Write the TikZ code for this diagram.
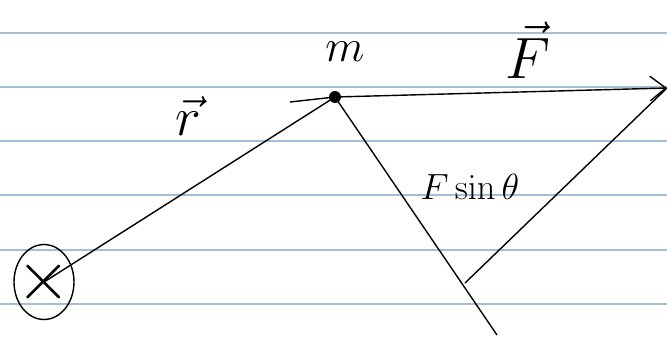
\documentclass[tikz,border=0pt]{standalone}
\usepackage{amsmath}
\usetikzlibrary{arrows.meta,shapes.geometric}
\definecolor{paperline}{RGB}{165,190,212}

\begin{document}
\begin{tikzpicture}[x=0.02cm, y=-0.02cm, >={Straight Barb[length=9pt,width=14pt]}]
    \useasboundingbox (0,0) rectangle (667,339);
    % ruled paper
    \foreach \yy in {33,87,141,195,250,304}
        \draw[paperline, semithick] (0,\yy) -- (667,\yy);
    % points
    \node[draw, thick, ellipse, minimum width=1.2cm, minimum height=1.5cm, inner sep=0pt] (O) at (44,282) {};
    \node[scale=1.6] at (O.center) {\Huge$\times$};
    \node[circle, fill, inner sep=2.4pt] (m) at (335,97) {};
    \coordinate (tail) at (290,102);
    \coordinate (tip) at (667,88);
    \coordinate (foot) at (465,283);
    \coordinate (end) at (497,335);
    % vectors
    \draw[thick] (O.center) -- (m.center);
    \draw[->, thick] (tail) -- (m.center) -- (tip);
    \draw[thick] (m.center) -- (end);
    \draw[thick] (foot) -- (tip);
    % labels
    \node[scale=1.5] at (345,52) {\LARGE$m$};
    \node[scale=1.6] at (528,50) {\huge$\vec{F}$};
    \node[scale=1.5] at (188,116) {\huge$\vec{r}$};
    \node[scale=1.2] at (470,187) {\LARGE$F\sin\theta$};
\end{tikzpicture}
\end{document}
